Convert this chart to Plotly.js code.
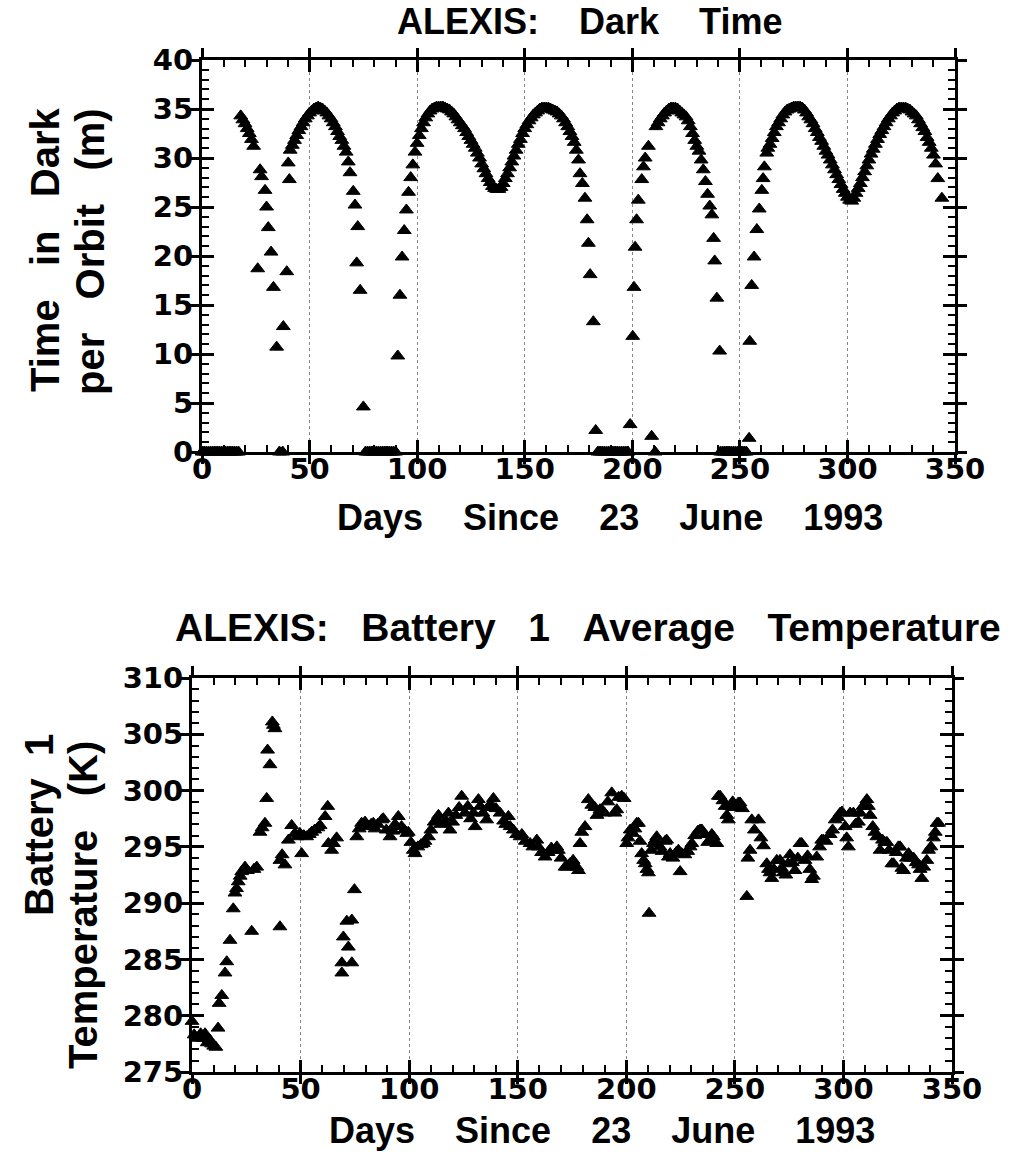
<!DOCTYPE html>
<html><head><meta charset="utf-8">
<script src="https://cdn.plot.ly/plotly-3.0.1.min.js"></script>
<style>html,body{margin:0;padding:0;background:#fff;} #chart{width:1017px;height:1154px;}</style>
</head><body><div id="chart"></div>
<script>
// ---------- Top chart: time in dark per orbit (minutes) ----------
const darkDays = [
  0,1,2,3,4,5,6,7,8,9,10,11,12,13,14,15,16,17,
  18,19,20,21,22,23,24,25.9,27,27.7,29.3,30,30.8,32.1,33.2,34.7,36,37.5,37.8,39.4,40.1,40.6,
  41,42,43,44,45,46,47,48,49,50,51,52,53,54,55,56,57,58,59,60,61,62,63,64,65,66,67,68,
  68.8,70.3,71.1,71.9,72.4,73.5,75,
  76,77,78,79,80,81,82,83,84,85,86,87,88,89,90,
  91,92,93,94,95,96,97,98,99,100,
  101,102,103,104,105,106,107,108,109,110,
  111,112,113,114,115,116,117,118,119,120,
  121,122,123,124,125,126,127,128,129,130,
  131,132,133,134,135,136,137,138,139,140,
  141,142,143,144,145,146,147,148,149,150,
  151,152,153,154,155,156,157,158,159,160,
  161,162,163,164,165,166,167,168,169,170,
  171,172,173,174,
  175,175.7,176.8,178,179,179.6,180.4,181.9,183,
  184,185,186,187,188,189,190,191,192,193,194,195,196,197,198,
  199,200.2,200.8,201.3,202,202.8,204.4,205.2,206,207.5,209,210.6,
  211,212,213,214,215,216,217,218,219,220,
  221,222,223,224,225,226,227,228,229,230,
  231,232,233,234,235,236,237,
  237.8,238.3,239.3,240.6,
  241,242,243,244,245,246,247,248,249,250,251,252,253,
  254.3,254.6,255.5,256.6,257.9,259,260.2,260.8,261.4,262.5,
  263,264,265,266,267,268,269,270,271,272,
  273,274,275,276,277,278,279,280,281,282,
  283,284,285,286,287,288,289,290,291,292,
  293,294,295,296,297,298,299,300,301,302,
  303,304,305,306,307,308,309,310,311,312,
  313,314,315,316,317,318,319,320,321,322,
  323,324,325,326,327,328,329,330,331,332,
  333,334,335,336,337,338,339,340,341,342,
  343.9
];
const darkMinutes = [
  0,0,0,0,0,0,0,0,0,0,0,0,0,0,0,0,0,0,
  34.3,33.9,33.5,33.0,32.5,31.9,31.2,18.7,28.8,28.1,26.7,25.0,22.9,20.4,16.8,10.7,0,0,12.8,18.4,29.5,27.8,
  30.8,31.3,31.8,32.3,32.8,33.2,33.6,34.0,34.3,34.6,34.8,35.0,35.1,35.2,35.1,35.0,34.8,34.6,34.3,34.0,33.6,33.2,32.7,32.2,31.8,31.2,30.6,29.6,
  28.5,26.6,25.2,19.3,23.0,16.5,4.6,
  0,0,0,0,0,0,0,0,0,0,0,0,0,0,0,
  9.8,16.0,19.9,22.6,24.7,26.5,28.0,29.3,30.6,31.5,
  32.3,33.0,33.6,34.1,34.5,34.8,35.0,35.1,35.2,35.2,
  35.2,35.2,35.1,35.0,34.9,34.7,34.5,34.2,33.9,33.6,
  33.3,33.0,32.6,32.2,31.8,31.4,31.0,30.5,30.0,29.4,
  28.9,28.4,27.9,27.5,27.1,26.9,26.8,26.8,27.0,27.4,
  27.9,28.4,29.0,29.6,30.2,30.8,31.4,31.9,32.5,33.0,
  33.4,33.8,34.1,34.4,34.6,34.8,35.0,35.1,35.1,35.1,
  35.1,35.0,34.9,34.8,34.7,34.5,34.3,34.0,33.6,33.2,
  32.7,32.2,31.6,30.8,
  29.8,28.4,27.4,25.9,23.7,21.3,18.1,13.3,2.2,
  0,0,0,0,0,0,0,0,0,0,0,0,0,0,0,
  2.8,11.8,16.8,20.9,23.7,25.7,27.8,29.1,30.0,31.2,1.6,0,
  33.2,33.6,34.0,34.3,34.6,34.8,35.0,35.1,35.1,35.1,
  35.0,34.8,34.6,34.4,34.2,33.8,33.2,32.5,31.8,31.2,
  30.7,29.8,28.8,27.6,26.3,25.1,24.2,
  21.8,19.5,15.7,10.3,
  0,0,0,0,0,0,0,0,0,0,0,0,0,
  1.4,11.3,17.0,19.9,22.7,24.8,26.7,27.9,29.1,30.5,
  31.0,31.4,32.0,32.6,33.2,33.6,34.0,34.4,34.7,34.9,
  35.0,35.1,35.2,35.2,35.2,35.2,35.1,34.9,34.6,34.2,
  33.9,33.5,33.0,32.6,32.1,31.7,31.2,30.7,30.3,29.8,
  29.3,28.8,28.3,27.8,27.3,26.8,26.4,26.0,25.7,25.6,
  25.9,26.4,26.9,27.4,28.0,28.6,29.2,29.8,30.4,30.9,
  31.4,31.9,32.4,32.8,33.2,33.6,34.0,34.3,34.6,34.8,
  35.0,35.1,35.1,35.1,35.1,35.0,34.9,34.7,34.5,34.3,
  33.9,33.5,33.1,32.7,32.1,31.6,31.0,30.3,29.4,27.9,
  25.9
];

// ---------- Bottom chart: battery 1 average temperature (K) ----------
const tempDays = [
  0,1,2,3,4,5,6,7,8,9,
  10,11,12,12.5,13.7,15.2,16,17.5,19,19.8,
  20.5,21.3,22.2,22.9,24.4,25.5,27.5,28.5,29.8,31.3,
  32.3,33.6,34.4,35.9,34.8,37,37.5,38.2,40.5,40.5,
  41.5,42.8,44.4,45.9,47.4,48.5,49.7,50.5,51.5,52.8,
  54,55.1,56.5,58,59,61.3,62.5,62.8,64.3,65.2,
  66.6,69,69,69.7,71.3,72,73.6,73.6,74.8,75.9,
  77,78.1,79.7,81,82.5,83.5,84.3,85.5,87.4,88.1,
  89.5,91.2,92.5,93.5,95,96.5,97.8,98.9,99.6,100.8,
  101.9,102.7,104,105.5,106.5,107.3,108.9,110,111.5,112.7,
  113.5,114.5,115.8,117,118.1,118.8,120,121.5,123,124.2,
  125.7,127,128.3,129.6,130.4,131.9,132.7,134,135.7,136.5,
  137.5,138.8,140,141.9,143.5,144.5,145.7,146.5,148,149.5,
  151.1,151.9,153.5,155.7,157,158.8,159.5,161,162.6,164,
  165.5,167,168,168.7,170,171.8,172.6,174,175.5,177.2,
  178,178.7,179.5,181,182.5,184.1,185.5,186.5,187.9,188.7,
  190,191.5,193.3,194.8,195.6,196.5,197.9,199,200.2,200.8,
  201.8,203,204,204.8,205.6,206.3,207.1,208,208.7,209.5,
  210.2,210.5,211.5,212.5,213.3,214,215.5,216.5,217.9,218.6,
  219.4,220.2,221.5,223,224,224.8,225.5,227,228.3,229.4,
  230.2,231.5,233,234,234.8,236,237.5,238.5,239.4,240.1,
  241.7,242.4,243.2,244.5,245.5,246.3,247,247.8,249,250,
  251.6,252.4,253.5,255.5,256,257,257.8,259,260.9,262,
  263.2,264.7,265.5,266.2,267,268,269.3,270.8,271.5,272.4,
  273.5,274.5,275.4,276.5,277.7,279,280,280.8,282.3,283.5,
  284.5,285.4,286.2,287.7,289,290,290.8,292,293.9,295,
  296.2,297.5,298.5,299.3,300.8,301.5,302.3,303.1,304.6,305.5,
  306.9,307.7,309,310.8,311.5,312.3,313.5,314.5,315.4,316.9,
  318,319,320,321,322.3,323.1,324.3,325.3,326.1,326.9,
  327.7,329,330,331,332.3,333.5,334.6,335.3,336.1,337,
  338.4,339.2,340.3,341.5,342.3,343.1,343.8
];
const tempK = [
  279.5,278.3,278.0,278.1,278.4,278.0,278.4,277.6,277.9,277.5,
  277.3,277.2,278.9,281.1,281.8,283.8,284.8,286.7,289.5,290.9,
  291.3,291.9,292.4,292.8,293.2,292.9,287.5,293.0,293.2,296.3,
  296.7,297.1,299.3,302.3,303.6,306.1,305.8,305.5,287.9,293.8,
  294.3,293.4,295.6,296.9,296.2,295.9,296.2,294.4,296.0,295.9,
  296.1,296.3,296.5,296.7,296.9,297.7,298.6,295.3,294.7,295.3,
  295.8,283.8,284.7,287.0,288.4,286.1,284.7,288.5,291.2,295.9,
  296.6,297.1,297.2,296.8,297.0,297.1,296.6,297.0,297.4,297.5,
  296.5,295.9,296.4,297.0,297.7,296.8,296.5,296.2,296.3,295.4,
  294.7,294.4,295.0,295.2,295.3,295.5,295.9,296.5,297.2,297.4,
  297.8,297.0,297.1,297.3,298.0,296.5,297.2,297.8,298.5,299.5,
  298.0,298.6,297.5,298.0,296.8,299.2,298.6,298.0,297.4,298.5,
  298.8,299.3,298.4,298.0,297.3,297.0,297.7,296.8,296.5,296.1,
  295.9,296.1,295.5,295.3,295.0,295.6,295.0,294.5,294.1,294.5,
  294.9,294.7,295.0,294.7,294.0,293.2,293.2,293.5,293.8,293.2,
  292.9,295.3,296.3,296.8,299.2,298.7,298.5,297.8,298.3,298.3,
  298.0,299.0,299.8,298.0,298.3,299.4,299.5,299.3,295.3,295.8,
  296.5,296.2,296.6,297.1,297.1,295.5,294.4,293.8,293.5,293.0,
  292.7,289.1,294.7,295.3,295.6,295.9,295.0,294.6,295.5,295.6,
  294.1,294.4,294.0,294.5,294.7,292.8,294.4,294.3,294.6,295.0,
  295.3,296.0,296.4,296.5,296.5,296.1,295.4,295.6,296.1,295.9,
  295.3,299.5,299.5,299.1,298.6,297.8,297.4,298.6,299.0,298.5,
  298.9,298.9,298.4,290.6,294.0,294.7,297.4,296.5,297.4,295.8,
  295.1,293.5,293.0,292.7,292.2,293.0,293.8,293.8,293.1,292.7,
  292.5,293.5,294.3,293.6,292.9,294.0,295.3,295.3,293.8,294.2,
  293.0,292.1,292.4,294.1,295.0,295.6,295.6,295.5,296.1,296.5,
  297.4,297.6,298.0,298.1,296.8,295.8,295.0,298.0,298.0,297.0,
  297.2,298.0,298.6,299.2,298.6,297.8,296.8,296.3,295.9,294.7,
  295.6,295.4,295.4,294.7,293.5,293.5,294.5,295.0,295.0,293.1,
  292.9,294.0,294.4,294.0,294.0,293.6,293.4,293.0,292.2,293.2,
  293.8,294.7,295.0,295.8,296.3,297.1,297.1
];

const dayTicks = [0,50,100,150,200,250,300,350];
const darkTicks = [0,5,10,15,20,25,30,35,40];
const tempTicks = [275,280,285,290,295,300,305,310];

const W = 1017, H = 1154;
const TICKFONT = {family:'DejaVu Sans', size:29, color:'#000', weight:'bold'};
const TITLEFONT = {family:'Liberation Sans, Arial, sans-serif', size:36, color:'#000'};
const nb = n => '\u00a0'.repeat(n);

const marker = {symbol:'triangle-up', size:12, color:'#000', line:{width:1, color:'#000'}};
const traces = [
  {x:darkDays, y:darkMinutes, xaxis:'x', yaxis:'y', type:'scatter', mode:'markers', marker:marker, cliponaxis:false, hoverinfo:'none'},
  {x:tempDays, y:tempK, xaxis:'x2', yaxis:'y2', type:'scatter', mode:'markers', marker:marker, cliponaxis:false, hoverinfo:'none'},
  {x:[], y:[], xaxis:'x3', yaxis:'y3', type:'scatter', mode:'markers', hoverinfo:'none'},
  {x:[], y:[], xaxis:'x4', yaxis:'y4', type:'scatter', mode:'markers', hoverinfo:'none'}
];

function mainX(dom, anchor){
  return {domain:dom, anchor:anchor, range:[0,350], tickmode:'array', tickvals:dayTicks,
    ticks:'inside', ticklen:12, tickwidth:3, tickcolor:'#000', ticklabelstandoff:-11,
    showline:true, linewidth:3, linecolor:'#000', mirror:'ticks',
    showgrid:true, gridcolor:'#888', griddash:'dot', gridwidth:1, zeroline:false,
    minor:{ticks:'inside', dtick:10, tick0:0, ticklen:7, tickwidth:2, tickcolor:'#000', showgrid:false},
    tickfont:TICKFONT, fixedrange:true};
}
function mainY(dom, anchor, rng, vals){
  return {domain:dom, anchor:anchor, range:rng, tickmode:'array', tickvals:vals,
    ticks:'inside', ticklen:12, tickwidth:3, tickcolor:'#000', ticklabelstandoff:0,
    showline:true, linewidth:3, linecolor:'#000', mirror:'ticks',
    showgrid:false, zeroline:false,
    minor:{ticks:'inside', dtick:1, tick0:0, ticklen:7, tickwidth:2, tickcolor:'#000', showgrid:false},
    tickfont:TICKFONT, fixedrange:true};
}
function outerX(over, anchor){
  return {overlaying:over, anchor:anchor, range:[0,350], tickmode:'array', tickvals:dayTicks,
    ticks:'outside', ticklen:11, tickwidth:3, tickcolor:'#000', mirror:'ticks',
    showline:false, showgrid:false, zeroline:false, showticklabels:false, fixedrange:true};
}
function outerY(over, anchor, rng, vals){
  return {overlaying:over, anchor:anchor, range:rng, tickmode:'array', tickvals:vals,
    ticks:'outside', ticklen:11, tickwidth:3, tickcolor:'#000', mirror:'ticks',
    showline:false, showgrid:false, zeroline:false, showticklabels:false, fixedrange:true};
}

const topXdom = [202/W, 955/W], topYdom = [1-452/H, 1-60/H];
const botXdom = [192/W, 952/W], botYdom = [1-1072/H, 1-678/H];

function ann(text, xpx, ypx, size, angle){
  return {text:'<b>'+text+'</b>', x:xpx/W, y:1-ypx/H, xref:'paper', yref:'paper',
    xanchor:'center', yanchor:'middle', showarrow:false, textangle:angle||0,
    font:Object.assign({}, TITLEFONT, {size:size})};
}

const layout = {
  width:W, height:H, autosize:false, showlegend:false,
  paper_bgcolor:'#fff', plot_bgcolor:'#fff',
  margin:{l:0, r:0, t:0, b:0, pad:0},
  xaxis: mainX(topXdom, 'y'),
  yaxis: mainY(topYdom, 'x', [0,40], darkTicks),
  xaxis2: mainX(botXdom, 'y2'),
  yaxis2: mainY(botYdom, 'x2', [275,310], tempTicks),
  xaxis3: outerX('x', 'y'),
  yaxis3: outerY('y', 'x', [0,40], darkTicks),
  xaxis4: outerX('x2', 'y2'),
  yaxis4: outerY('y2', 'x2', [275,310], tempTicks),
  annotations: [
    ann('ALEXIS:'+nb(4)+'Dark'+nb(4)+'Time', 589, 22, 36),
    ann('ALEXIS:'+nb(3)+'Battery'+nb(3)+'1'+nb(3)+'Average'+nb(3)+'Temperature', 588, 627, 39),
    ann('Days'+nb(4)+'Since'+nb(4)+'23'+nb(4)+'June'+nb(4)+'1993', 610, 517, 36),
    ann('Days'+nb(4)+'Since'+nb(4)+'23'+nb(4)+'June'+nb(4)+'1993', 602, 1130, 36),
    ann('Time'+nb(3)+'in'+nb(3)+'Dark', 45, 250, 40, -90),
    ann('per'+nb(3)+'Orbit'+nb(3)+'(m)', 90, 252, 40, -90),
    ann('Battery'+nb(2)+'1', 39, 825, 40, -90),
    ann('Temperature'+nb(3)+'(K)', 83, 905, 40, -90)
  ]
};

Plotly.newPlot('chart', traces, layout, {displayModeBar:false, staticPlot:true});
</script>
</body></html>
